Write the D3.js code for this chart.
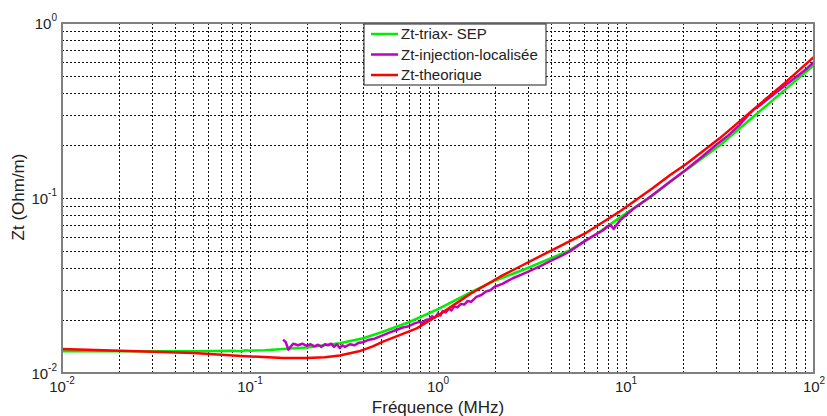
<!DOCTYPE html>
<html>
<head>
<meta charset="utf-8">
<script src="https://cdn.jsdelivr.net/npm/d3@7"></script>
<style>
  body { margin: 0; background: #fff; }
  text { font-family: "Liberation Sans", Arial, sans-serif; fill: #222; }
</style>
</head>
<body>
<svg id="chart" width="827" height="416"></svg>
<script>
// frequency (MHz) / Zt (Ohm/m)
const triaxFreq = [0.01, 0.02, 0.05, 0.08, 0.09, 0.095, 0.1, 0.12, 0.15, 0.2, 0.3, 0.4, 0.5, 0.7, 1.0, 1.5, 2, 3, 5, 7, 9.3, 13.9, 17.1, 21, 31.6, 50, 70, 100];
const triaxZt = [0.0133, 0.0133, 0.0133, 0.0134, 0.0133, 0.0135, 0.0134, 0.0135, 0.0137, 0.0140, 0.0148, 0.0158, 0.0171, 0.0195, 0.0232, 0.0290, 0.0336, 0.0398, 0.0502, 0.0625, 0.0775, 0.1035, 0.1235, 0.1450, 0.2000, 0.3050, 0.4150, 0.5750];

const injFreq = [0.150, 0.155, 0.160, 0.165, 0.170, 0.180, 0.19, 0.2, 0.21, 0.22, 0.23, 0.24, 0.25, 0.26, 0.27, 0.28, 0.29, 0.30, 0.31, 0.32, 0.34, 0.36, 0.38, 0.40, 0.43, 0.46, 0.5, 0.55, 0.6, 0.65, 0.7, 0.75,
  0.8, 0.83, 0.86, 0.9, 0.93, 0.96, 1.0, 1.03, 1.06, 1.1, 1.14, 1.18, 1.22, 1.27, 1.32, 1.38, 1.44, 1.5, 1.6, 1.7, 1.8, 1.9, 2.0, 2.2, 2.5, 2.8, 3.0, 3.5, 4.0, 4.5, 5.0, 6.0, 7.0, 7.5, 8.0, 8.3, 8.6, 8.9, 9.3,
  10, 11, 12, 13, 14, 15, 17, 21, 25, 30, 35, 40, 45, 48, 50, 60, 70, 80, 90, 100];
const injZt = [0.0155, 0.0150, 0.0136, 0.0142, 0.0147, 0.0144, 0.0147, 0.0143, 0.0146, 0.0142, 0.0145, 0.0141, 0.0146, 0.0144, 0.0147, 0.0141, 0.0146, 0.0139, 0.0144, 0.0141, 0.0146, 0.0144, 0.0149, 0.0150, 0.0155, 0.0157, 0.0163, 0.0170, 0.0176, 0.0182, 0.0185, 0.0192,
  0.0196, 0.0193, 0.0201, 0.0203, 0.0211, 0.0207, 0.0219, 0.0213, 0.0226, 0.0222, 0.0233, 0.0228, 0.0240, 0.0237, 0.0248, 0.0246, 0.0258, 0.0255, 0.0272, 0.0279, 0.0292, 0.0297, 0.0311, 0.0323, 0.0348, 0.0366, 0.0378, 0.0408, 0.0438, 0.0466, 0.0494, 0.0565, 0.0625, 0.0650, 0.0690, 0.0700, 0.0665, 0.0700, 0.0745,
  0.0800, 0.0870, 0.0930, 0.0990, 0.1050, 0.1110, 0.1230, 0.1460, 0.1700, 0.2000, 0.2280, 0.2600, 0.3000, 0.3220, 0.3300, 0.3850, 0.4380, 0.4900, 0.5400, 0.6000];

const theoFreq = [0.01, 0.025, 0.05, 0.09, 0.15, 0.2, 0.25, 0.3, 0.38, 0.45, 0.51, 0.63, 0.77, 1.0, 1.5, 2.14, 2.73, 4, 6.17, 9.3, 13.9, 17.1, 21, 31.6, 50, 70, 100];
const theoZt = [0.0137, 0.0133, 0.0130, 0.0125, 0.0122, 0.0122, 0.0123, 0.0126, 0.0133, 0.0142, 0.0151, 0.0165, 0.0180, 0.0213, 0.0285, 0.0355, 0.0406, 0.0501, 0.0635, 0.0840, 0.1140, 0.1350, 0.1570, 0.2200, 0.3350, 0.4550, 0.6400];

const seriesNames = ['Zt-triax- SEP', 'Zt-injection-localisée', 'Zt-theorique'];
const seriesColors = ['#00ee00', '#bf00bf', '#ff0000'];

const xTickExps = [-2, -1, 0, 1, 2];
const yTickExps = [-2, -1, 0];

const margin = { left: 62, right: 13, top: 23, bottom: 43 };
const width = 827, height = 416;

const svg = d3.select('#chart');
svg.append('rect').attr('width', width).attr('height', height).attr('fill', '#fff');

const x = d3.scaleLog().domain([0.01, 100]).range([margin.left, width - margin.right]);
const y = d3.scaleLog().domain([0.01, 1]).range([height - margin.bottom, margin.top]);

// grid: every decade and sub-decade value
const xGrid = [];
for (let e = -2; e < 2; e++) for (let k = 1; k <= 9; k++) xGrid.push(k * Math.pow(10, e));
const yGrid = [];
for (let e = -2; e < 0; e++) for (let k = 1; k <= 9; k++) yGrid.push(k * Math.pow(10, e));

const px = (v) => Math.round(v) + 0.5;
const grid = svg.append('g')
  .attr('stroke', '#111')
  .attr('stroke-width', 1)
  .attr('stroke-dasharray', '2,2');
grid.selectAll('line.gx').data(xGrid.slice(1)).join('line')
  .attr('class', 'gx')
  .attr('x1', (d) => px(x(d))).attr('x2', (d) => px(x(d)))
  .attr('y1', y(0.01)).attr('y2', y(1));
grid.selectAll('line.gy').data(yGrid.slice(1)).join('line')
  .attr('class', 'gy')
  .attr('x1', x(0.01)).attr('x2', x(100))
  .attr('y1', (d) => px(y(d))).attr('y2', (d) => px(y(d)));

// curves
const line = d3.line().x((d) => x(d[0])).y((d) => y(d[1]));
const series = [
  d3.zip(triaxFreq, triaxZt),
  d3.zip(injFreq, injZt),
  d3.zip(theoFreq, theoZt)
];
svg.append('g').selectAll('path').data(series).join('path')
  .attr('d', line)
  .attr('fill', 'none')
  .attr('stroke', (d, i) => seriesColors[i])
  .attr('stroke-width', 2.5)
  .attr('stroke-linejoin', 'round');

// axes frame
svg.append('rect')
  .attr('x', x(0.01)).attr('y', y(1))
  .attr('width', x(100) - x(0.01)).attr('height', y(0.01) - y(1))
  .attr('fill', 'none').attr('stroke', '#808080').attr('stroke-width', 2);

// tick labels
const xl = svg.append('g').selectAll('text').data(xTickExps).join('text')
  .attr('x', (d) => x(Math.pow(10, d)))
  .attr('y', 392)
  .attr('text-anchor', 'middle')
  .style('font-size', '15px');
xl.append('tspan').text('10');
xl.append('tspan').attr('dy', -8).style('font-size', '10px').text((d) => d);

const yl = svg.append('g').selectAll('text').data(yTickExps).join('text')
  .attr('x', 57)
  .attr('y', (d) => y(Math.pow(10, d)) + 6)
  .attr('text-anchor', 'end')
  .style('font-size', '15px');
yl.append('tspan').text('10');
yl.append('tspan').attr('dy', -8).style('font-size', '10px').text((d) => d);

// axis titles
svg.append('text')
  .attr('x', 438).attr('y', 413)
  .attr('text-anchor', 'middle')
  .style('font-size', '17px')
  .text('Fréquence (MHz)');
svg.append('text')
  .attr('transform', 'translate(24,197) rotate(-90)')
  .attr('text-anchor', 'middle')
  .style('font-size', '17px')
  .text('Zt (Ohm/m)');

// legend
const legend = svg.append('g').attr('transform', 'translate(364,24)');
legend.append('rect')
  .attr('width', 182).attr('height', 61)
  .attr('fill', '#fff').attr('stroke', '#444').attr('stroke-width', 1.2);
const rows = legend.selectAll('g').data(seriesNames).join('g')
  .attr('transform', (d, i) => `translate(0,${10 + i * 20.5})`);
rows.append('line')
  .attr('x1', 7).attr('x2', 34)
  .attr('stroke', (d, i) => seriesColors[i])
  .attr('stroke-width', 2.5);
rows.append('text')
  .attr('x', 37).attr('y', 5)
  .style('font-size', '15px')
  .text((d) => d);
</script>
</body>
</html>
